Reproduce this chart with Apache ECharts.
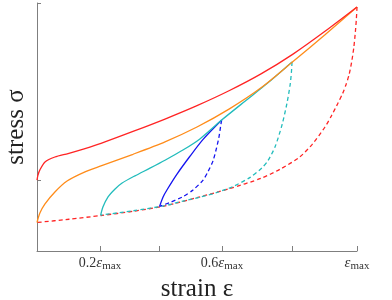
<!DOCTYPE html>
<html><head><meta charset="utf-8">
<script src="https://cdn.jsdelivr.net/npm/echarts@6/dist/echarts.min.js"></script>
<style>html,body{margin:0;padding:0;background:#fff}#c{width:392px;height:300px}</style>
</head><body><div id="c"></div>
<script>
// tick positions (strain / eps_max as drawn) and labels
const xTickValues = [0.197, 0.381, 0.578, 0.797, 1];
const xLabelValues = [0.197, 0.578, 1];
const xLabelPrefix = ['0.2', '0.6', ''];
const yTickValues = [0.286, 1];

// red: loading to eps_max (solid) and unloading (dashed)
const redLoadX = [0, 0.003, 0.009, 0.025, 0.056, 0.097, 0.15, 0.2, 0.3, 0.4, 0.5, 0.6, 0.7, 0.8, 0.9, 1];
const redLoadY = [0.286, 0.306, 0.327, 0.359, 0.379, 0.393, 0.413, 0.434, 0.482, 0.532, 0.586, 0.646, 0.714, 0.794, 0.886, 0.984];
const redUnloadX = [1, 0.998, 0.995, 0.99, 0.983, 0.975, 0.965, 0.955, 0.94, 0.92, 0.9, 0.86, 0.82, 0.76, 0.7, 0.6, 0.5, 0.4, 0.3, 0.2, 0.1, 0];
const redUnloadY = [0.984, 0.935, 0.885, 0.82, 0.76, 0.71, 0.668, 0.635, 0.595, 0.545, 0.50, 0.43, 0.378, 0.33, 0.293, 0.251, 0.215, 0.182, 0.160, 0.143, 0.128, 0.115];

// orange: loading from origin
const orangeX = [0, 0.009, 0.025, 0.056, 0.094, 0.15, 0.2, 0.3, 0.4, 0.5, 0.6, 0.7, 0.8, 0.9, 1];
const orangeY = [0.115, 0.153, 0.190, 0.238, 0.282, 0.319, 0.343, 0.390, 0.440, 0.500, 0.572, 0.658, 0.764, 0.872, 0.984];

// teal: reload from 0.2 to 0.8 and unload
const tealLoadX = [0.199, 0.206, 0.222, 0.244, 0.266, 0.306, 0.353, 0.4, 0.456, 0.509, 0.577, 0.65, 0.72, 0.797];
const tealLoadY = [0.145, 0.177, 0.218, 0.25, 0.274, 0.303, 0.334, 0.366, 0.407, 0.452, 0.528, 0.604, 0.676, 0.762];
const tealUnloadX = [0.797, 0.795, 0.791, 0.781, 0.766, 0.744, 0.722, 0.703, 0.666, 0.6125, 0.5625, 0.509, 0.456, 0.4, 0.3, 0.199];
const tealUnloadY = [0.762, 0.72, 0.67, 0.595, 0.51, 0.42, 0.365, 0.335, 0.297, 0.260, 0.236, 0.217, 0.201, 0.183, 0.162, 0.145];

// blue: reload from 0.4 to 0.6 and unload
const blueLoadX = [0.383, 0.394, 0.406, 0.4375, 0.478, 0.519, 0.577];
const blueLoadY = [0.180, 0.218, 0.246, 0.310, 0.382, 0.450, 0.528];
const blueUnloadX = [0.577, 0.574, 0.568, 0.551, 0.534, 0.519, 0.4875, 0.456, 0.416, 0.383];
const blueUnloadY = [0.528, 0.505, 0.455, 0.367, 0.319, 0.286, 0.246, 0.219, 0.196, 0.180];

const zip = (a, b) => a.map((v, i) => [v, b[i]]);
const RED = '#ff2424', ORANGE = '#ff8c1a', TEAL = '#22bcbc', BLUE = '#1414f0';
function line(name, xs, ys, color, dashed, z) {
  return {
    name, type: 'line', data: zip(xs, ys), showSymbol: false, symbol: 'none',
    smooth: 0.25, z: z, silent: true,
    lineStyle: { color, width: 1.3, type: dashed ? [4, 3] : 'solid' }
  };
}
const axisGray = '#7f7f7f';
const serif = '"Liberation Serif", "DejaVu Serif", serif';
const chart = echarts.init(document.getElementById('c'), null, { renderer: 'canvas' });
chart.setOption({
  animation: false,
  backgroundColor: '#fff',
  grid: { left: 37, right: 35, top: 3, bottom: 49, containLabel: false, outerBoundsMode: 'none' },
  xAxis: {
    type: 'value', min: 0, max: 1,
    name: 'strain ε', nameLocation: 'middle', nameGap: 25,
    nameTextStyle: { fontFamily: serif, fontSize: 25, color: '#222' },
    axisLine: { show: true, onZero: false, lineStyle: { color: axisGray, width: 1 } },
    axisTick: { show: true, inside: true, length: 5, customValues: xTickValues, lineStyle: { color: axisGray } },
    splitLine: { show: false },
    axisLabel: {
      show: true, margin: 4, customValues: xLabelValues,
      formatter: function (v) {
        let i = xLabelValues.findIndex(t => Math.abs(t - v) < 1e-6);
        let p = i >= 0 ? xLabelPrefix[i] : '';
        return (p ? '{n|' + p + '}' : '') + '{e|ε}{s|max}';
      },
      rich: {
        n: { fontFamily: serif, fontSize: 14, color: '#333', lineHeight: 16 },
        e: { fontFamily: serif, fontSize: 15, fontStyle: 'italic', color: '#333', lineHeight: 16 },
        s: { fontFamily: serif, fontSize: 11, color: '#333', padding: [7, 0, 0, 0], lineHeight: 16 }
      }
    }
  },
  yAxis: {
    type: 'value', min: 0, max: 1,
    name: 'stress σ', nameLocation: 'middle', nameGap: 8, nameRotate: 90,
    nameTextStyle: { fontFamily: serif, fontSize: 25, color: '#222' },
    axisLine: { show: true, onZero: false, lineStyle: { color: axisGray, width: 1 } },
    axisTick: { show: true, inside: true, length: 4, customValues: yTickValues, lineStyle: { color: axisGray } },
    axisLabel: { show: false },
    splitLine: { show: false }
  },
  series: [
    line('red unload', redUnloadX, redUnloadY, RED, true, 2),
    line('teal unload', tealUnloadX, tealUnloadY, TEAL, true, 3),
    line('blue unload', blueUnloadX, blueUnloadY, BLUE, true, 3),
    line('blue load', blueLoadX, blueLoadY, BLUE, false, 4),
    line('teal load', tealLoadX, tealLoadY, TEAL, false, 4),
    line('orange', orangeX, orangeY, ORANGE, false, 5),
    line('red load', redLoadX, redLoadY, RED, false, 6)
  ]
});
</script></body></html>
